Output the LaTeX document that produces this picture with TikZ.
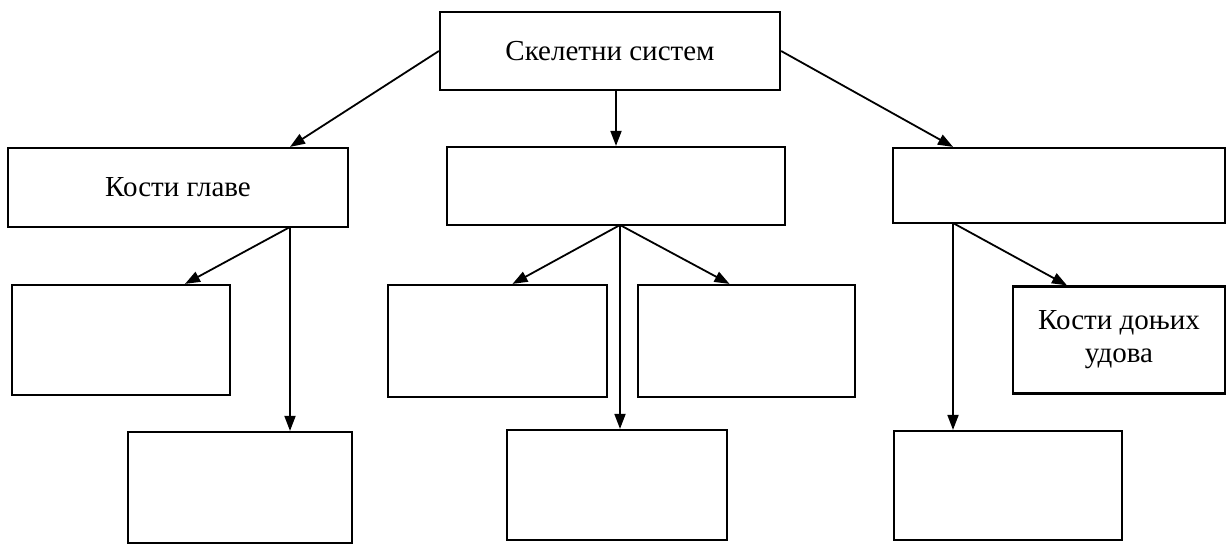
\documentclass[tikz,border=0pt]{standalone}
\usepackage{fontspec}
\setmainfont{Liberation Serif}
\usetikzlibrary{arrows.meta}

\begin{document}
\begin{tikzpicture}[x=1pt,y=-1pt,
  box/.style={draw,rectangle,line width=2.2pt,inner sep=0pt,font=\fontsize{29}{33}\selectfont},
  arr/.style={-{Triangle[length=15pt,width=11pt]},line width=1.8pt}]
\useasboundingbox (0,0) rectangle (1228,546);

\node[box,minimum width=340,minimum height=78] (sys) at (610,51) {Скелетни систем};
\node[box,minimum width=340,minimum height=79] (skull) at (178,187.5) {Кости главе};
\node[box,minimum width=212,minimum height=107,align=center] (leg) at (1119,340) {Кости доњих\\удова};

\foreach \n/\x/\y/\w/\h in {mid/616/186/338/78, limb/1059/185.5/332/75,
                            a/121/340/218/110, b/497.5/341/219/112, c/746.5/341/217/112,
                            e/240/487.5/224/111, f/617/485/220/110, g/1008/485.5/228/109}
  \node[box,minimum width=\w,minimum height=\h] (\n) at (\x,\y) {};

\coordinate (skullfoot) at (290,227);
\coordinate (midfoot) at (620,225);
\coordinate (limbfoot) at (953,223);

\draw[arr] (sys.west) -- (skull.north -| skullfoot);
\draw[arr] (sys.south -| mid.north) -- (mid.north);
\draw[arr] (sys.east) -- (limb.north -| limbfoot);

\draw[arr] (skullfoot) -- ([xshift=64pt]a.north);
\draw[arr] (skullfoot) -- (skullfoot |- e.north);
\draw[arr] (midfoot) -- ([xshift=15pt]b.north);
\draw[arr] (midfoot) -- ([xshift=-17pt]c.north);
\draw[arr] (midfoot) -- (midfoot |- f.north);
\draw[arr] (limbfoot) -- (limbfoot |- g.north);
\draw[arr] (limbfoot) -- ([xshift=-52pt]leg.north);

\end{tikzpicture}
\end{document}
